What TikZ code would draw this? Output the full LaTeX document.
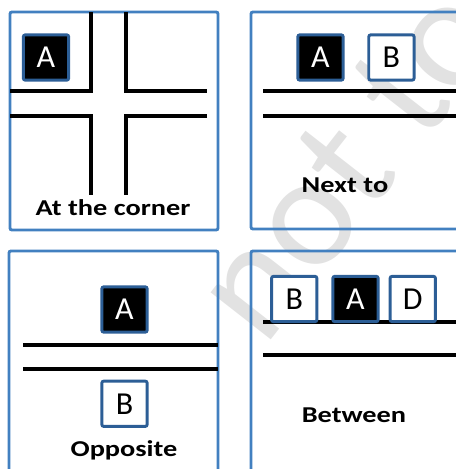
\documentclass[tikz,border=0pt]{standalone}
\usepackage{fontspec}
\setmainfont{Carlito}
\usetikzlibrary{positioning}
\definecolor{panelblue}{RGB}{66,128,192}
\definecolor{boxblue}{RGB}{44,94,150}
\definecolor{wmgray}{RGB}{226,226,226}

\begin{document}
\begin{tikzpicture}[
  x=0.75pt, y=-0.75pt,
  panel/.style={draw=panelblue, line width=2.2pt, rounded corners=1.5pt},
  road/.style={draw=black, line width=2.3pt},
  house/.style={rectangle, draw=boxblue, line width=2.2pt, rounded corners=1.5pt,
                minimum width=34pt, minimum height=34pt, inner sep=0pt,
                font=\fontsize{24}{26}\selectfont},
  darkhouse/.style={house, fill=black, text=white},
  lighthouse/.style={house, fill=white, text=black},
  lbl/.style={font=\bfseries\fontsize{17}{19}\selectfont},
]
\useasboundingbox (0,0) rectangle (456,469);
\clip (0,0) rectangle (456,469);

% ---------- watermark ----------
\node[text=wmgray, font=\fontsize{120}{124}\selectfont, rotate=52, anchor=base west]
  (wm) at (262,352) {not to be republished};

% ---------- panel 1: at the corner ----------
\draw[panel] (10,12) rectangle (218,230);
\draw[road] (91,12) -- (91,91) -- (10,91);
\draw[road] (126,12) -- (126,91) -- (207,91);
\draw[road] (10,116) -- (91,116) -- (91,195);
\draw[road] (207,116) -- (126,116) -- (126,195);
\node[darkhouse] (a1) at (46,57.5) {A};
\node[lbl] (corner) at (113,208) {\scalebox{1.25}[1]{At the corner}};

% ---------- panel 2: next to ----------
\draw[panel] (251,12) rectangle (475,229);
\draw[road] (263,91) -- (460,91);
\draw[road] (263,116) -- (460,116);
\node[darkhouse] (a2) at (320.5,57.5) {A};
\node[lighthouse, right=17pt of a2] (b2) {B};
\node[lbl] (nextto) at (345,185) {\scalebox{1.25}[1]{Next to}};

% ---------- panel 3: opposite ----------
\draw[panel] (9,251) rectangle (218,480);
\draw[road] (23,345) -- (218,345);
\draw[road] (23,369) -- (218,369);
\node[darkhouse] (a3) at (124.5,309.5) {A};
\node[lighthouse, below=34.5pt of a3] (b3) {B};
\node[lbl] (opp) at (124,450) {\scalebox{1.25}[1]{Opposite}};

% ---------- panel 4: between ----------
\draw[panel] (251,251) rectangle (475,480);
\draw[road, line width=3pt] (263,322) -- (460,322);
\draw[road] (263,355) -- (460,355);
\node[darkhouse] (a4) at (355.5,299) {A};
\node[lighthouse, left=9.75pt of a4] (b4) {B};
\node[lighthouse, right=6.75pt of a4] (d4) {D};
\node[lbl] (betw) at (354,415) {\scalebox{1.25}[1]{Between}};

\end{tikzpicture}
\end{document}
